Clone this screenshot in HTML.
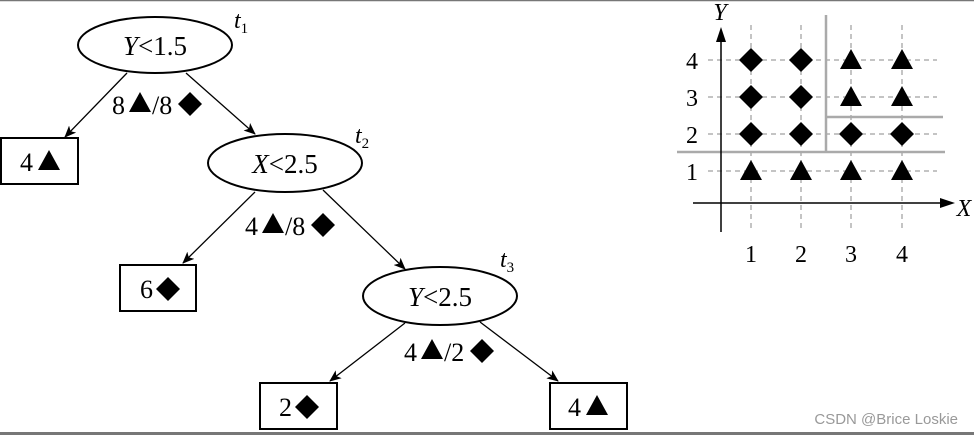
<!DOCTYPE html>
<html><head><style>
body{margin:0;background:#fff;width:974px;height:435px;overflow:hidden}
svg{display:block}
.s{font-family:"Liberation Serif",serif;fill:#000}
</style></head><body>
<svg width="974" height="435" viewBox="0 0 974 435">
<defs>
<marker id="a" markerWidth="12" markerHeight="10" refX="11" refY="5" orient="auto" markerUnits="userSpaceOnUse"><path d="M0,0 L12,5 L0,10 L3,5z" fill="#000"/></marker>
<g id="d"><path d="M0,-12 L12,0 L0,12 L-12,0z" fill="#000"/></g>
<g id="t"><path d="M0,-11 L11,9 L-11,9z" fill="#000"/></g>
</defs>
<line x1="0" y1="0.5" x2="974" y2="0.5" stroke="#777" stroke-width="1.5"/>
<rect x="0" y="432" width="974" height="3" fill="#777"/>
<g fill="none" stroke="#000" stroke-width="2">
<ellipse cx="155" cy="45" rx="77" ry="28"/>
<ellipse cx="285" cy="163" rx="77" ry="29"/>
<ellipse cx="440" cy="296" rx="77" ry="29"/>
<rect x="1" y="138" width="77" height="46"/>
<rect x="120" y="265" width="76" height="46"/>
<rect x="260" y="383" width="77" height="46"/>
<rect x="550" y="383" width="77" height="46"/>
</g>
<g stroke="#000" stroke-width="1.3" marker-end="url(#a)">
<line x1="127" y1="73" x2="65" y2="137"/>
<line x1="186" y1="73" x2="255" y2="134"/>
<line x1="255" y1="192" x2="183" y2="263"/>
<line x1="323" y1="190" x2="405" y2="269"/>
<line x1="405" y1="323" x2="330" y2="381"/>
<line x1="480" y1="322" x2="558" y2="381"/>
</g>
<g class="s" font-size="27" text-anchor="middle">
<text class="s" x="155" y="55"><tspan font-style="italic">Y</tspan>&lt;1.5</text>
<text class="s" x="285" y="173"><tspan font-style="italic">X</tspan>&lt;2.5</text>
<text class="s" x="440" y="306"><tspan font-style="italic">Y</tspan>&lt;2.5</text>
</g>
<g font-size="24" font-style="italic">
<text class="s" x="234" y="28">t<tspan font-size="15" dy="5" font-style="normal">1</tspan></text>
<text class="s" x="355" y="143">t<tspan font-size="15" dy="5" font-style="normal">2</tspan></text>
<text class="s" x="500" y="267">t<tspan font-size="15" dy="5" font-style="normal">3</tspan></text>
</g>
<g font-size="26">
<text class="s" x="112" y="114">8</text><use href="#t" x="140" y="103"/><text class="s" x="152" y="114">/8</text><use href="#d" x="190" y="104"/>
<text class="s" x="245" y="235">4</text><use href="#t" x="273" y="224"/><text class="s" x="285" y="235">/8</text><use href="#d" x="323" y="225"/>
<text class="s" x="404" y="361">4</text><use href="#t" x="432" y="350"/><text class="s" x="444" y="361">/2</text><use href="#d" x="482" y="351"/>
<text class="s" x="20" y="171">4</text><use href="#t" x="49" y="161"/>
<text class="s" x="140" y="298">6</text><use href="#d" x="168" y="289"/>
<text class="s" x="279" y="416">2</text><use href="#d" x="307" y="407"/>
<text class="s" x="568" y="416">4</text><use href="#t" x="597" y="406"/>
</g>
<g stroke="#888" stroke-width="1" stroke-dasharray="5,4">
<line x1="751" y1="25" x2="751" y2="232"/><line x1="801" y1="25" x2="801" y2="232"/>
<line x1="851" y1="25" x2="851" y2="232"/><line x1="902" y1="25" x2="902" y2="232"/>
<line x1="708" y1="60" x2="937" y2="60"/><line x1="708" y1="97" x2="937" y2="97"/>
<line x1="708" y1="134" x2="937" y2="134"/><line x1="708" y1="171" x2="937" y2="171"/>
</g>
<g stroke="#aaa" stroke-width="2.5" fill="none">
<line x1="677" y1="152" x2="945" y2="152"/>
<line x1="826" y1="15" x2="826" y2="152"/>
<line x1="826" y1="117" x2="943" y2="117"/>
</g>
<g stroke="#000" stroke-width="1.5">
<line x1="721" y1="232" x2="721" y2="36"/>
<line x1="693" y1="203" x2="945" y2="203"/>
</g>
<path d="M721,27 L726,42 L716,42z" fill="#000"/>
<path d="M955,203 L940,198 L940,208z" fill="#000"/>
<g>
<use href="#d" x="751" y="60"/><use href="#d" x="801" y="60"/><use href="#t" x="851" y="60"/><use href="#t" x="902" y="60"/>
<use href="#d" x="751" y="97"/><use href="#d" x="801" y="97"/><use href="#t" x="851" y="97"/><use href="#t" x="902" y="97"/>
<use href="#d" x="751" y="134"/><use href="#d" x="801" y="134"/><use href="#d" x="851" y="134"/><use href="#d" x="902" y="134"/>
<use href="#t" x="751" y="171"/><use href="#t" x="801" y="171"/><use href="#t" x="851" y="171"/><use href="#t" x="902" y="171"/>
</g>
<g font-size="24" text-anchor="middle">
<text class="s" x="692" y="69">4</text><text class="s" x="692" y="106">3</text><text class="s" x="692" y="143">2</text><text class="s" x="692" y="180">1</text>
<text class="s" x="751" y="262">1</text><text class="s" x="801" y="262">2</text><text class="s" x="851" y="262">3</text><text class="s" x="902" y="262">4</text>
<text class="s" x="720" y="20" font-style="italic">Y</text><text class="s" x="964" y="216" font-style="italic">X</text>
</g>
<text x="958" y="424" text-anchor="end" style="font-family:'Liberation Sans',sans-serif;font-size:15px;fill:#999">CSDN @Brice Loskie</text>
</svg>
</body></html>
